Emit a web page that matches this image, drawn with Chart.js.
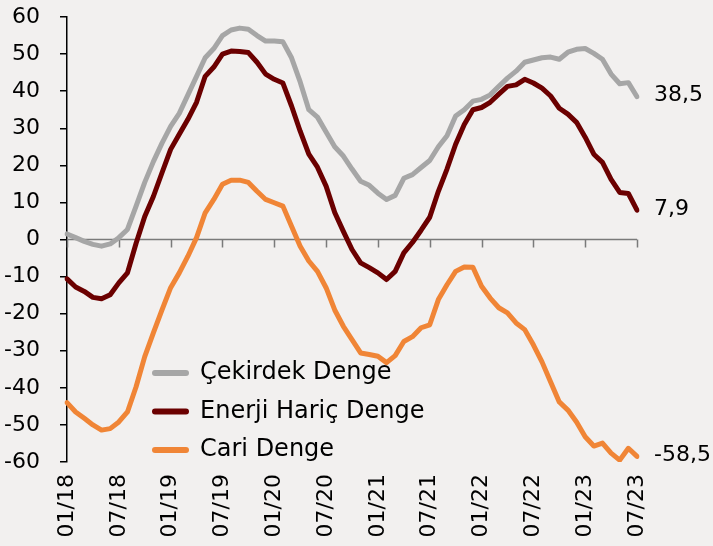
<!DOCTYPE html>
<html>
<head>
<meta charset="utf-8">
<script src="https://cdn.jsdelivr.net/npm/chart.js@4.4.0/dist/chart.umd.min.js"></script>
<style>
  html, body { margin: 0; padding: 0; background: #f2f0ef; }
  #wrap { width: 713px; height: 546px; }
</style>
</head>
<body>
<div id="wrap"><canvas id="myChart"></canvas></div>
<script>
// monthly categories 01/18 .. 07/23
var months = [];
for (var yr = 18; yr <= 23; yr++) {
    for (var mo = 1; mo <= 12; mo++) {
        if (yr === 23 && mo > 7) break;
        months.push((mo < 10 ? "0" : "") + mo + "/" + yr);
    }
}

var seriesNames = ["Çekirdek Denge", "Enerji Hariç Denge", "Cari Denge"];
var seriesColors = ["#a6a6a6", "#6b0000", "#f08536"];

var cekirdek = [1.5, 0.5, -0.5, -1.3, -1.8, -1.2, 0.5, 2.7, 9, 15.4, 21, 26, 30.5, 34, 39, 44, 49, 51.5, 55, 56.5,
    57, 56.7, 55, 53.5, 53.5, 53.3, 49, 42.5, 35, 33, 29, 25, 22.5, 19, 15.7, 14.6, 12.5, 10.8, 11.9, 16.5,
    17.5, 19.4, 21.3, 25, 28, 33.3, 35, 37.3, 37.8, 39, 41.3, 43.5, 45.4, 47.8, 48.4, 49, 49.2, 48.6, 50.5, 51.3,
    51.5, 50.2, 48.6, 44.6, 42, 42.3, 38.5];

var enerjiHaric = [-10.6, -12.8, -14, -15.6, -16, -14.9, -11.7, -9, -1, 6.2, 11.6, 18, 24.3, 28.4, 32.4, 37, 44, 46.5, 50, 50.8,
    50.7, 50.4, 47.8, 44.6, 43.2, 42.2, 36, 29.2, 23, 19.5, 14.4, 7.3, 2.2, -2.7, -6.3, -7.6, -9, -10.8, -8.6, -3.6,
    -0.8, 2.5, 6, 13, 19, 25.7, 31, 35, 35.6, 37, 39.2, 41.3, 41.7, 43.2, 42.2, 40.8, 38.7, 35.4, 33.8, 31.6,
    27.6, 23, 20.8, 16.2, 12.7, 12.4, 7.9];

var cari = [-44, -46.5, -48.2, -50, -51.4, -51, -49.2, -46.5, -39.7, -31.6, -25.2, -19, -13, -9, -4.5, 0.5, 7.2, 10.8, 14.9, 16,
    16, 15.4, 13, 10.8, 9.9, 9, 3.6, -1.8, -5.8, -8.6, -13, -19, -23.4, -27, -30.6, -31, -31.5, -33.2, -31.3, -27.5,
    -26.2, -23.8, -23, -16.2, -12.2, -8.6, -7.4, -7.5, -12.6, -15.8, -18.4, -19.8, -22.5, -24.3, -28.4, -33, -38.4, -43.8, -46, -49.2,
    -53.2, -55.7, -54.9, -57.6, -59.5, -56.3, -58.5];

var FONT = "'DejaVu Sans', sans-serif";

// zero line with small ticks every 6 months
const zeroLine = {
    id: "zeroLine",
    beforeDatasetsDraw(chart) {
        const ctx = chart.ctx, area = chart.chartArea;
        const x = chart.scales.x, y = chart.scales.y;
        const y0 = y.getPixelForValue(0);
        ctx.save();
        ctx.strokeStyle = "#7a7a7a";
        ctx.lineWidth = 1.5;
        ctx.beginPath();
        ctx.moveTo(area.left, y0);
        ctx.lineTo(area.right, y0);
        months.forEach((m, i) => {
            if (i % 6 === 0) {
                const px = Math.round(x.getPixelForValue(i)) + 0.5;
                ctx.moveTo(px, y0);
                ctx.lineTo(px, y0 + 8);
            }
        });
        ctx.stroke();
        ctx.restore();
    }
};

// last value labels to the right of each line
const endLabels = {
    id: "endLabels",
    afterDatasetsDraw(chart) {
        const ctx = chart.ctx;
        ctx.save();
        ctx.font = "22px " + FONT;
        ctx.fillStyle = "#000";
        ctx.textAlign = "left";
        ctx.textBaseline = "middle";
        chart.data.datasets.forEach((ds, i) => {
            const meta = chart.getDatasetMeta(i);
            const pt = meta.data[meta.data.length - 1];
            const v = ds.data[ds.data.length - 1];
            ctx.fillText(v.toFixed(1).replace(".", ","), pt.x + 17, pt.y - 1);
        });
        ctx.restore();
    }
};

// legend inside the plot, lower left
const innerLegend = {
    id: "innerLegend",
    afterDraw(chart) {
        const ctx = chart.ctx;
        ctx.save();
        ctx.font = "24px " + FONT;
        ctx.textBaseline = "middle";
        chart.data.datasets.forEach((ds, i) => {
            const cy = 373 + i * 38.5;
            ctx.strokeStyle = ds.borderColor;
            ctx.lineWidth = 6;
            ctx.lineCap = "round";
            ctx.beginPath();
            ctx.moveTo(155, cy);
            ctx.lineTo(186, cy);
            ctx.stroke();
            ctx.fillStyle = "#000";
            ctx.fillText(ds.label, 200, cy);
        });
        ctx.restore();
    }
};

function mkSet(i, data) {
    return {
        label: seriesNames[i],
        data: data,
        borderColor: seriesColors[i],
        backgroundColor: seriesColors[i],
        borderWidth: 5,
        pointRadius: 0,
        tension: 0,
        borderCapStyle: "round",
        borderJoinStyle: "round",
        fill: false
    };
}

new Chart("myChart", {
    type: "line",
    data: {
        labels: months,
        datasets: [mkSet(0, cekirdek), mkSet(1, enerjiHaric), mkSet(2, cari)]
    },
    options: {
        responsive: true,
        maintainAspectRatio: false,
        animation: false,
        devicePixelRatio: 1,
        layout: { padding: { top: 17, right: 76, left: 0, bottom: 0 } },
        plugins: {
            legend: { display: false },
            tooltip: { enabled: false }
        },
        scales: {
            x: {
                offset: false,
                grid: { display: false, drawTicks: false },
                border: { display: false },
                ticks: {
                    autoSkip: false,
                    minRotation: 90,
                    maxRotation: 90,
                    padding: 12,
                    color: "#000",
                    font: { family: FONT, size: 22 },
                    callback: function (val, idx) {
                        return idx % 6 === 0 ? months[idx] : "";
                    }
                },
                afterFit: function (s) { s.height = 84; s.paddingLeft = 0; s.paddingRight = 0; }
            },
            y: {
                min: -60,
                max: 60,
                ticks: {
                    stepSize: 10,
                    padding: 20,
                    color: "#000",
                    font: { family: FONT, size: 22 }
                },
                grid: { drawOnChartArea: false, color: "#000", tickLength: 7, lineWidth: 1.5 },
                border: { color: "#000", width: 1.5 },
                // tick padding would otherwise push the plot top down
                afterFit: function (s) { s.width = 67; s.paddingTop = 0; s.paddingBottom = 0; }
            }
        }
    },
    plugins: [zeroLine, endLabels, innerLegend]
});
</script>
</body>
</html>
